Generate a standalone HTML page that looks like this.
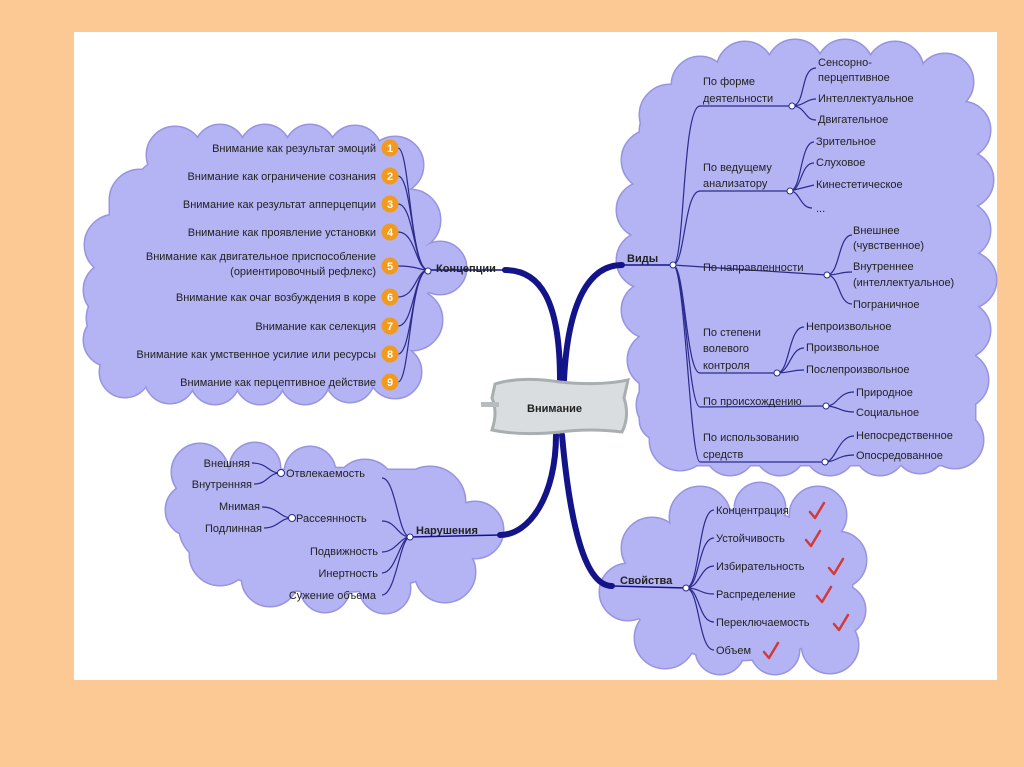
<!DOCTYPE html>
<html><head><meta charset="utf-8"><style>
html,body{margin:0;padding:0;background:#fcc994;}
svg{display:block;}
text{font-family:"Liberation Sans",sans-serif;font-size:11px;fill:#222;}
.b{font-weight:bold;}
.t{fill:none;stroke:#2b2b8c;stroke-width:1.2;}
.h{fill:#fff;stroke:#2b2b8c;stroke-width:1;}
.ck{fill:none;stroke:#d23a3a;stroke-width:2.5;stroke-linecap:round;stroke-linejoin:round;}
</style></head><body>
<svg width="1024" height="767" viewBox="0 0 1024 767" xmlns="http://www.w3.org/2000/svg">
<rect x="0" y="0" width="1024" height="767" fill="#fcc994"/>
<rect x="74" y="32" width="923" height="648" fill="#fff"/>
<defs>
<g id="c1">
<rect x="135" y="160" width="265" height="215" rx="30"/>
<rect x="110" y="180" width="300" height="180" rx="20"/>
<circle cx="175" cy="155" r="28"/><circle cx="220" cy="150" r="25"/><circle cx="265" cy="150" r="25"/><circle cx="310" cy="150" r="25"/><circle cx="355" cy="152" r="26"/><circle cx="395" cy="165" r="28"/>
<circle cx="140" cy="200" r="30"/><circle cx="115" cy="245" r="30"/><circle cx="112" cy="290" r="28"/><circle cx="115" cy="318" r="28"/><circle cx="110" cy="340" r="26"/><circle cx="125" cy="372" r="25"/>
<circle cx="170" cy="378" r="25"/><circle cx="215" cy="380" r="24"/><circle cx="260" cy="380" r="24"/><circle cx="305" cy="380" r="24"/><circle cx="350" cy="378" r="24"/><circle cx="395" cy="372" r="26"/>
<circle cx="410" cy="220" r="30"/><circle cx="415" cy="270" r="26"/><circle cx="440" cy="268" r="26"/><circle cx="412" cy="320" r="30"/>
</g>
<g id="c2">
<rect x="660" y="90" width="295" height="350" rx="40"/>
<rect x="690" y="75" width="250" height="100"/>
<rect x="640" y="110" width="335" height="330" rx="20"/>
<rect x="680" y="420" width="270" height="45"/>
<circle cx="700" cy="85" r="28"/><circle cx="745" cy="70" r="28"/><circle cx="795" cy="68" r="28"/><circle cx="845" cy="68" r="28"/><circle cx="895" cy="70" r="28"/><circle cx="945" cy="82" r="28"/>
<circle cx="962" cy="130" r="28"/><circle cx="965" cy="180" r="28"/><circle cx="962" cy="230" r="28"/><circle cx="968" cy="280" r="28"/><circle cx="962" cy="330" r="28"/><circle cx="960" cy="380" r="28"/><circle cx="955" cy="440" r="28"/>
<circle cx="670" cy="115" r="30"/><circle cx="652" cy="160" r="30"/><circle cx="645" cy="210" r="28"/><circle cx="645" cy="260" r="28"/><circle cx="650" cy="310" r="28"/><circle cx="656" cy="360" r="28"/><circle cx="665" cy="405" r="28"/><circle cx="680" cy="440" r="30"/>
<circle cx="730" cy="450" r="25"/><circle cx="780" cy="450" r="25"/><circle cx="830" cy="450" r="25"/><circle cx="880" cy="450" r="25"/><circle cx="920" cy="448" r="25"/>
</g>
<g id="c3">
<ellipse cx="330" cy="530" rx="150" ry="62"/>
<rect x="195" y="470" width="255" height="105" rx="20"/>
<circle cx="200" cy="472" r="28"/><circle cx="255" cy="468" r="25"/><circle cx="310" cy="472" r="25"/><circle cx="365" cy="490" r="30"/><circle cx="430" cy="502" r="35"/><circle cx="475" cy="530" r="28"/><circle cx="445" cy="572" r="30"/><circle cx="385" cy="588" r="25"/><circle cx="325" cy="588" r="24"/><circle cx="270" cy="578" r="28"/><circle cx="220" cy="555" r="30"/><circle cx="192" cy="510" r="26"/>
</g>
<g id="c4">
<ellipse cx="740" cy="585" rx="112" ry="75"/>
<circle cx="700" cy="517" r="30"/><circle cx="760" cy="508" r="25"/><circle cx="818" cy="515" r="28"/><circle cx="838" cy="560" r="28"/><circle cx="840" cy="610" r="25"/><circle cx="830" cy="645" r="28"/><circle cx="775" cy="650" r="24"/><circle cx="720" cy="650" r="24"/><circle cx="665" cy="638" r="30"/><circle cx="628" cy="592" r="28"/><circle cx="652" cy="548" r="30"/>
</g>
</defs>
<g fill="#9894e0" stroke="#9894e0" stroke-width="3">
<use href="#c1"/><use href="#c2"/><use href="#c3"/><use href="#c4"/>
</g>
<g fill="#b4b4f4">
<use href="#c1"/><use href="#c2"/><use href="#c3"/><use href="#c4"/>
</g>

<g fill="none" stroke="#14148a" stroke-linecap="round">
<path d="M560,380 C560,300 540,270 505,270" stroke-width="6"/>
<path d="M505,270 L430,270" stroke-width="1.5"/>
<path d="M564,380 C568,300 590,265 622,265" stroke-width="6"/>
<path d="M622,265 L673,265" stroke-width="1.5"/>
<path d="M556,435 C556,495 530,535 500,535" stroke-width="6"/>
<path d="M500,535 L410,537" stroke-width="1.5"/>
<path d="M562,435 C570,525 585,586 612,586" stroke-width="6"/>
<path d="M612,586 L686,588" stroke-width="1.5"/>
</g>

<path d="M495,384 Q520,376 560,382 Q600,386 628,380 L624,398 Q630,416 622,432 Q590,428 560,432 Q520,436 492,430 Q498,412 492,398 Z" fill="#d9dde0" stroke="#a9aeb1" stroke-width="3"/>
<rect x="481" y="402" width="18" height="5" fill="#b8bcbf"/>
<text x="527" y="412" class="b">Внимание</text>

<g class="t">
<path d="M428,270 C410,270 410,148 398,148"/><path d="M428,270 C412,270 412,176 398,176"/><path d="M428,270 C414,270 414,204 398,204"/><path d="M428,270 C416,270 416,232 398,232"/><path d="M428,270 C418,270 418,266 398,266"/><path d="M428,270 C416,270 416,297 398,297"/><path d="M428,270 C414,270 414,326 398,326"/><path d="M428,270 C412,270 412,354 398,354"/><path d="M428,270 C410,270 410,382 398,382"/>
</g>
<circle cx="428" cy="271" r="3" class="h"/>
<text x="436" y="272" class="b">Концепции</text>
<g text-anchor="end">
<text x="376" y="152">Внимание как результат эмоций</text>
<text x="376" y="180">Внимание как ограничение сознания</text>
<text x="376" y="208">Внимание как результат апперцепции</text>
<text x="376" y="236">Внимание как проявление установки</text>
<text x="376" y="260">Внимание как двигательное приспособление</text>
<text x="376" y="275">(ориентировочный рефлекс)</text>
<text x="376" y="301">Внимание как очаг возбуждения в коре</text>
<text x="376" y="330">Внимание как селекция</text>
<text x="376" y="358">Внимание как умственное усилие или ресурсы</text>
<text x="376" y="386">Внимание как перцептивное действие</text>
</g>
<g fill="#f29a1e">
<circle cx="390" cy="148" r="8.5"/><circle cx="390" cy="176" r="8.5"/><circle cx="390" cy="204" r="8.5"/><circle cx="390" cy="232" r="8.5"/><circle cx="390" cy="266" r="8.5"/><circle cx="390" cy="297" r="8.5"/><circle cx="390" cy="326" r="8.5"/><circle cx="390" cy="354" r="8.5"/><circle cx="390" cy="382" r="8.5"/>
</g>
<g text-anchor="middle">
<text x="390" y="152" style="fill:#fff;font-weight:bold">1</text><text x="390" y="180" style="fill:#fff;font-weight:bold">2</text><text x="390" y="208" style="fill:#fff;font-weight:bold">3</text><text x="390" y="236" style="fill:#fff;font-weight:bold">4</text><text x="390" y="270" style="fill:#fff;font-weight:bold">5</text><text x="390" y="301" style="fill:#fff;font-weight:bold">6</text><text x="390" y="330" style="fill:#fff;font-weight:bold">7</text><text x="390" y="358" style="fill:#fff;font-weight:bold">8</text><text x="390" y="386" style="fill:#fff;font-weight:bold">9</text>
</g>

<text x="627" y="262" class="b">Виды</text>
<g class="t">
<path d="M673,265 C685,265 682,106 700,106 L792,106"/>
<path d="M673,265 C685,265 684,191 700,191 L790,191"/>
<path d="M673,265 L827,275"/>
<path d="M673,265 C685,265 686,373 700,373 L777,373"/>
<path d="M673,265 C685,265 688,407 700,407 L826,406"/>
<path d="M673,265 C685,265 690,462 700,462 L825,462"/>
<path d="M792,106 C806,106 800,68 816,68"/><path d="M792,106 C804,106 806,99 816,99"/><path d="M792,106 C806,106 804,120 816,120"/>
<path d="M790,191 C802,191 800,142 814,142"/><path d="M790,191 C802,191 800,163 814,163"/><path d="M790,191 L814,185"/><path d="M790,191 C800,191 800,208 812,208"/>
<path d="M827,275 C840,275 838,235 852,235"/><path d="M827,275 C840,275 838,272 852,272"/><path d="M827,275 C840,275 838,304 852,304"/>
<path d="M777,373 C790,373 788,327 804,327"/><path d="M777,373 C790,373 790,348 804,348"/><path d="M777,373 C790,373 790,370 804,370"/>
<path d="M826,406 C838,406 838,392 854,392"/><path d="M826,406 C838,406 840,412 854,412"/>
<path d="M825,462 C836,462 838,436 854,436"/><path d="M825,462 C836,462 838,455 854,455"/>
</g>
<circle cx="673" cy="265" r="3" class="h"/>
<circle cx="792" cy="106" r="3" class="h"/><circle cx="790" cy="191" r="3" class="h"/><circle cx="827" cy="275" r="3" class="h"/><circle cx="777" cy="373" r="3" class="h"/><circle cx="826" cy="406" r="3" class="h"/><circle cx="825" cy="462" r="3" class="h"/>
<text x="703" y="85">По форме</text><text x="703" y="102">деятельности</text>
<text x="703" y="171">По ведущему</text><text x="703" y="187">анализатору</text>
<text x="703" y="271">По направленности</text>
<text x="703" y="336">По степени</text><text x="703" y="352">волевого</text><text x="703" y="369">контроля</text>
<text x="703" y="405">По происхождению</text>
<text x="703" y="441">По использованию</text><text x="703" y="458">средств</text>
<text x="818" y="66">Сенсорно-</text><text x="818" y="81">перцептивное</text><text x="818" y="102">Интеллектуальное</text><text x="818" y="123">Двигательное</text>
<text x="816" y="145">Зрительное</text><text x="816" y="166">Слуховое</text><text x="816" y="188">Кинестетическое</text><text x="816" y="212">...</text>
<text x="853" y="234">Внешнее</text><text x="853" y="249">(чувственное)</text><text x="853" y="270">Внутреннее</text><text x="853" y="286">(интеллектуальное)</text><text x="853" y="308">Пограничное</text>
<text x="806" y="330">Непроизвольное</text><text x="806" y="351">Произвольное</text><text x="806" y="373">Послепроизвольное</text>
<text x="856" y="396">Природное</text><text x="856" y="416">Социальное</text>
<text x="856" y="439">Непосредственное</text><text x="856" y="459">Опосредованное</text>

<g class="t">
<path d="M410,537 C398,537 396,478 382,478"/><path d="M410,537 C398,537 396,521 382,521"/><path d="M410,537 C400,537 396,552 382,552"/><path d="M410,537 C400,537 396,573 382,573"/><path d="M410,537 C400,537 396,595 382,595"/>
<path d="M280,473 C268,473 268,463 252,463"/><path d="M280,473 C268,473 268,484 254,484"/>
<path d="M292,518 C280,518 278,507 262,507"/><path d="M292,518 C280,518 278,528 264,528"/>
</g>
<circle cx="410" cy="537" r="3" class="h"/><circle cx="281" cy="473" r="3.5" class="h"/><circle cx="292" cy="518" r="3.5" class="h"/>
<text x="416" y="534" class="b">Нарушения</text>
<text x="286" y="477">Отвлекаемость</text>
<text x="296" y="522">Рассеянность</text>
<g text-anchor="end">
<text x="250" y="467">Внешняя</text><text x="252" y="488">Внутренняя</text>
<text x="260" y="510">Мнимая</text><text x="262" y="532">Подлинная</text>
<text x="378" y="555">Подвижность</text><text x="378" y="577">Инертность</text><text x="376" y="599">Сужение объема</text>
</g>

<text x="620" y="584" class="b">Свойства</text>
<g class="t">
<path d="M686,588 C700,588 698,510 714,510"/><path d="M686,588 C700,588 698,538 714,538"/><path d="M686,588 C700,588 700,566 714,566"/><path d="M686,588 C700,588 700,594 714,594"/><path d="M686,588 C700,588 698,622 714,622"/><path d="M686,588 C700,588 698,650 714,650"/>
</g>
<circle cx="686" cy="588" r="3" class="h"/>
<text x="716" y="514">Концентрация</text>
<text x="716" y="542">Устойчивость</text>
<text x="716" y="570">Избирательность</text>
<text x="716" y="598">Распределение</text>
<text x="716" y="626">Переключаемость</text>
<text x="716" y="654">Объем</text>
<g class="ck">
<path d="M810,512 L815,518 L824,503"/>
<path d="M806,540 L811,546 L820,531"/>
<path d="M829,568 L834,574 L843,559"/>
<path d="M817,596 L822,602 L831,587"/>
<path d="M834,624 L839,630 L848,615"/>
<path d="M764,652 L769,658 L778,643"/>
</g>
</svg>
</body></html>
